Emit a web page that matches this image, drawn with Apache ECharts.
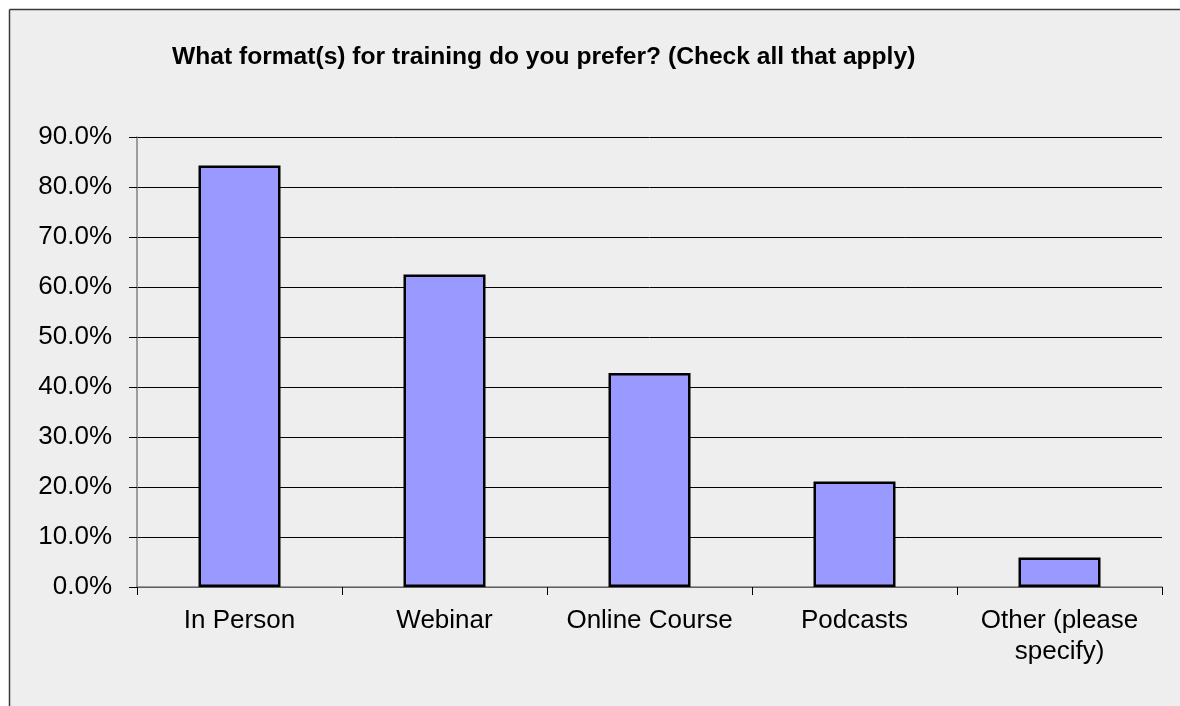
<!DOCTYPE html>
<html>
<head>
<meta charset="utf-8">
<script src="https://cdn.jsdelivr.net/npm/echarts@6/dist/echarts.min.js"></script>
<style>
  html, body { margin: 0; padding: 0; background: #ffffff; overflow: hidden; }
  #chart { width: 1180px; height: 706px; }
</style>
</head>
<body>
<div id="chart"></div>
<script>
const TITLE = 'What format(s) for training do you prefer? (Check all that apply)';
const categories = ['In Person', 'Webinar', 'Online Course', 'Podcasts', 'Other (please\nspecify)'];
const values = [84.3, 62.5, 42.8, 21.1, 5.9];

const FONT = "'Liberation Sans', Arial, sans-serif";

const chart = echarts.init(document.getElementById('chart'), null, { renderer: 'canvas' });

// chart frame: only left and top edges are visible in the source image
const frameStyle = { stroke: '#3a3a3a', lineWidth: 1.5 };

chart.setOption({
  animation: false,
  backgroundColor: '#ffffff',
  graphic: [
    {
      type: 'rect',
      z: -10,
      silent: true,
      shape: { x: 9.5, y: 9.5, width: 1180, height: 706 },
      style: { fill: '#eeeeee' }
    },
    {
      type: 'line',
      z: -9,
      silent: true,
      shape: { x1: 9.5, y1: 9.5, x2: 1180, y2: 9.5 },
      style: frameStyle
    },
    {
      type: 'line',
      z: -9,
      silent: true,
      shape: { x1: 9.5, y1: 9.5, x2: 9.5, y2: 706 },
      style: frameStyle
    }
  ],
  title: {
    text: TITLE,
    left: 172,
    top: 45,
    padding: 0,
    textStyle: { fontFamily: FONT, fontSize: 24.6, fontWeight: 'bold', color: '#000' }
  },
  grid: { left: 137, right: 18, top: 137, bottom: 119, containLabel: false },
  xAxis: {
    type: 'category',
    data: categories,
    boundaryGap: true,
    axisLine: { lineStyle: { color: '#808080', width: 1.5 } },
    axisTick: { show: true, length: 8, lineStyle: { color: '#000', width: 1 } },
    axisLabel: {
      interval: 0,
      margin: 18,
      color: '#000',
      fontFamily: FONT,
      fontSize: 26,
      lineHeight: 31
    },
    splitLine: { show: false }
  },
  yAxis: {
    type: 'value',
    min: 0,
    max: 90,
    interval: 10,
    axisLine: { show: true, lineStyle: { color: '#808080', width: 1.5 } },
    axisTick: { show: true, length: 8, lineStyle: { color: '#000', width: 1 } },
    axisLabel: {
      margin: 25,
      color: '#000',
      fontFamily: FONT,
      fontSize: 26,
      formatter: (v) => v.toFixed(1) + '%'
    },
    splitLine: { show: true, lineStyle: { color: '#000', width: 1 } }
  },
  series: [
    {
      type: 'bar',
      data: values,
      barWidth: '40%',
      itemStyle: { color: '#9999ff', borderColor: '#000', borderWidth: 2.5 }
    }
  ]
});
</script>
</body>
</html>
